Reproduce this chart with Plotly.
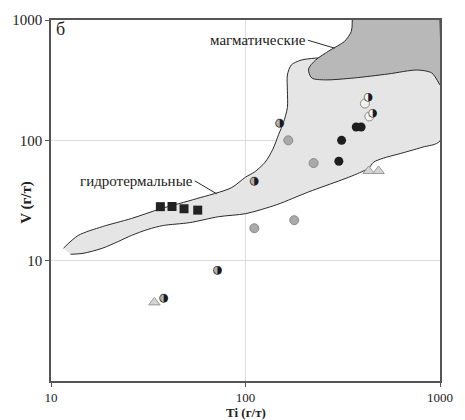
import plotly.graph_objects as go

# --- data (Ti, V in g/t) ---
hydro_ti = [11.6, 13.8, 18.4, 25.9, 36.6, 55.9, 84.4, 100.3, 111.2, 126.2, 138.2, 148.1, 156.8, 164.2, 164.2,
            164.2, 172, 193, 229, 456, 1000, 1000, 808.8, 607.3, 511.2, 456, 430, 362.4, 312.2, 211.3, 144.8,
            100.3, 72.7, 51.6, 37.8, 31.5, 25.9, 22.3, 18.4, 14.6, 12.6]
hydro_v = [12.7, 16.2, 19.2, 22.4, 27.0, 32.7, 40.3, 49.6, 54.5, 65.9, 84.3, 112, 140.7, 187, 258,
           349, 423, 464, 482, 510, 438, 99, 87.6, 76.7, 71.1, 65.9, 58.8, 51.5, 46.9, 37.3, 29.2,
           24.6, 23.2, 20.7, 19.6, 18.2, 16.2, 14.5, 12.7, 11.5, 11.3]

magma_ti = [354, 350, 323, 272, 229, 211, 219, 257, 362, 541, 764, 907, 972, 1000, 1000]
magma_v = [1000, 804, 665, 561, 464, 391, 330, 318, 330, 356, 384, 363, 312, 289, 1000]

sq_ti = [36.5, 41.9, 48.3, 56.8]
sq_v = [28.1, 28.2, 27.0, 26.3]

black_ti = [371, 393, 312, 302]
black_v = [129, 129, 100, 67]

gray_ti = [166, 224, 178, 111]
gray_v = [100, 64.7, 21.7, 18.6]

half_ti = [111, 150, 71.9, 38.0]
half_v = [46, 139, 8.3, 4.9]

tri_ti = [34, 430, 483]
tri_v = [4.5, 55.6, 55.6]

light_ti = [411, 433]
light_v = [202, 158]
pie_ti = [428, 451]
pie_v = [228, 168]

x_ticks = [10, 100, 1000]
y_ticks = [10, 100, 1000]

SERIF = "Liberation Serif, Times New Roman, serif"

fig = go.Figure()

fig.add_trace(go.Scatter(x=hydro_ti, y=hydro_v, mode="lines", fill="toself",
                         fillcolor="#e5e5e5", line=dict(color="#2a2a2a", width=1, shape="spline", smoothing=0.8),
                         hoverinfo="skip"))
fig.add_trace(go.Scatter(x=magma_ti, y=magma_v, mode="lines", fill="toself",
                         fillcolor="#b8b8b8", line=dict(color="#2a2a2a", width=1, shape="spline", smoothing=0.8),
                         hoverinfo="skip"))

fig.add_trace(go.Scatter(x=sq_ti, y=sq_v, mode="markers",
                         marker=dict(symbol="square", size=9, color="#222222", line=dict(width=0))))
fig.add_trace(go.Scatter(x=black_ti, y=black_v, mode="markers",
                         marker=dict(symbol="circle", size=9, color="#1e1e1e", line=dict(width=0))))
fig.add_trace(go.Scatter(x=gray_ti, y=gray_v, mode="markers",
                         marker=dict(symbol="circle", size=9, color="#a9a9a9", line=dict(width=1, color="#8a8a8a"))))
fig.add_trace(go.Scatter(x=tri_ti, y=tri_v, mode="markers",
                         marker=dict(symbol="triangle-up", size=10, color="#d4d4d4", line=dict(width=1, color="#9a9a9a"))))
# half-filled circles: gray base + right-half-black glyph
fig.add_trace(go.Scatter(x=half_ti, y=half_v, mode="markers",
                         marker=dict(symbol="circle", size=9, color="#b0b0b0", line=dict(width=0))))
fig.add_trace(go.Scatter(x=half_ti, y=half_v, mode="text", text=["◑"] * len(half_ti),
                         textposition="middle center",
                         textfont=dict(family="DejaVu Sans", size=11, color="#1a1a1a")))
# composite points
fig.add_trace(go.Scatter(x=light_ti, y=light_v, mode="markers",
                         marker=dict(symbol="circle", size=9, color="#f2f2f2", line=dict(width=1, color="#8a8a8a"))))
fig.add_trace(go.Scatter(x=pie_ti, y=pie_v, mode="markers",
                         marker=dict(symbol="circle", size=9, color="#f5f5f5", line=dict(width=0))))
fig.add_trace(go.Scatter(x=pie_ti, y=pie_v, mode="text", text=["◑"] * len(pie_ti),
                         textposition="middle center",
                         textfont=dict(family="DejaVu Sans", size=11, color="#1a1a1a")))

axis_common = dict(type="log", showline=True, mirror=True, linecolor="#555555", linewidth=1.5,
                   showgrid=True, gridcolor="#dcdcdc", gridwidth=1, zeroline=False,
                   ticks="outside", ticklen=4, tickcolor="#555555")

fig.update_layout(
    width=465, height=420,
    margin=dict(l=47, r=17, t=16, b=39),
    paper_bgcolor="white", plot_bgcolor="white",
    showlegend=False,
    xaxis=dict(range=[1, 3], tickvals=x_ticks, ticktext=[str(v) for v in x_ticks],
               tickfont=dict(family=SERIF, size=13, color="#222222"), **axis_common),
    yaxis=dict(range=[0, 3], tickvals=y_ticks, ticktext=[str(v) for v in y_ticks],
               tickfont=dict(family=SERIF, size=15, color="#222222"), **axis_common),
    annotations=[
        dict(text="<b>Ti (г/т)</b>", xref="paper", yref="paper", x=0.5, y=-0.0863, showarrow=False,
             font=dict(family=SERIF, size=13, color="#222222"), yanchor="middle"),
        dict(text="<b>V (г/т)</b>", xref="paper", yref="paper", x=-0.062, y=0.496, showarrow=False,
             textangle=-90, font=dict(family=SERIF, size=15, color="#222222"), xanchor="center"),
        dict(text="б", xref="paper", yref="paper", x=0.025, y=0.975, showarrow=False,
             font=dict(family=SERIF, size=18, color="#222222"), xanchor="center", yanchor="middle"),
        dict(text="гидротермальные", x=1.852, y=1.5556, xref="x", yref="y",
             showarrow=True, arrowhead=0, arrowwidth=1, arrowcolor="#2a2a2a", ax=-22, ay=-13,
             xanchor="right", yanchor="middle",
             font=dict(family=SERIF, size=15, color="#222222")),
        dict(text="магматические", x=2.4595, y=2.7654, xref="x", yref="y",
             showarrow=True, arrowhead=0, arrowwidth=1, arrowcolor="#2a2a2a", ax=-27, ay=-8,
             xanchor="right", yanchor="middle",
             font=dict(family=SERIF, size=15, color="#222222")),
    ],
)

fig.write_html("out.html", config={"displayModeBar": False},
               post_script="document.body.style.margin='0';document.body.style.padding='0';")
